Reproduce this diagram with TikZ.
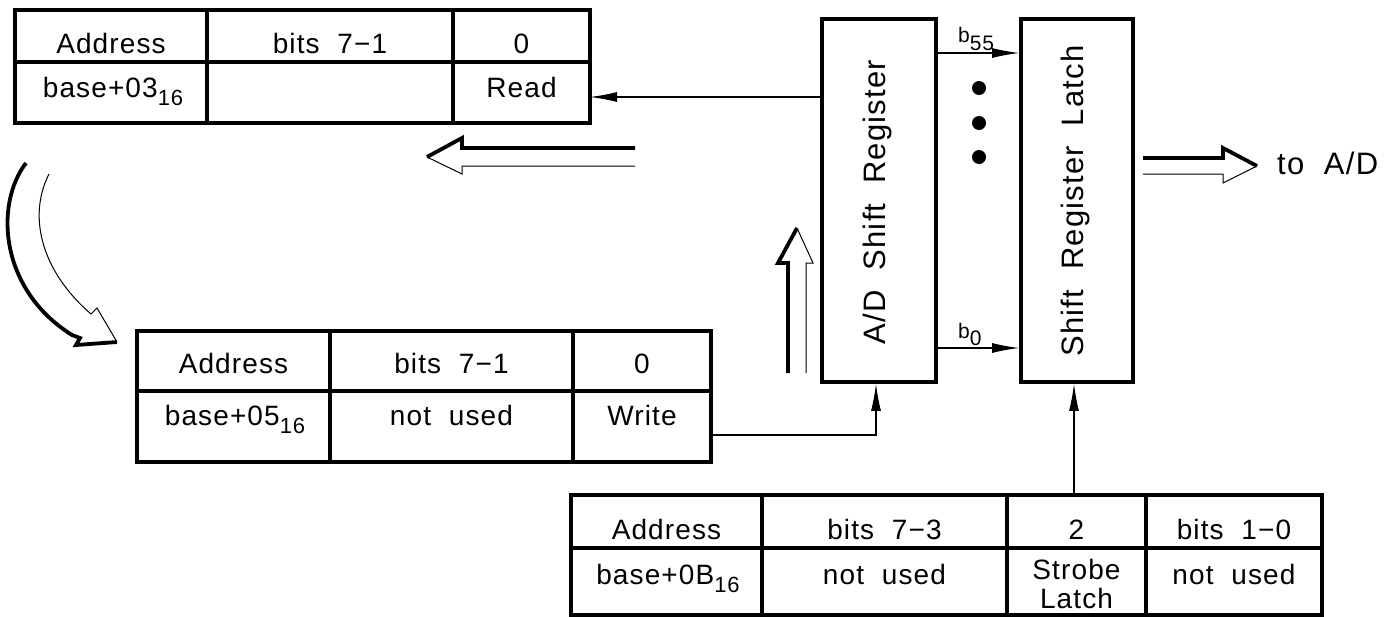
\documentclass[tikz,border=0pt]{standalone}
\usepackage{fontspec}
\setmainfont{Liberation Sans}[LetterSpace=4]
\usetikzlibrary{arrows.meta}
\newcommand\subsc[1]{\raisebox{-8pt}{\fontsize{22}{22}\selectfont #1}}
\newcommand\bsub[2]{\fontsize{21}{21}\selectfont b\raisebox{-#2}{\fontsize{21}{21}\selectfont #1}}
\begin{document}
\begin{tikzpicture}[x=1pt,y=-1pt,
  tbl/.style={line width=3.8pt},
  txt/.style={font=\fontsize{28}{30}\selectfont, inner sep=0pt, anchor=base, align=center},
  regbox/.style={draw, line width=3.8pt, inner sep=0pt, minimum height=363pt},
  rlabel/.style={font=\fontsize{31}{32}\selectfont, inner sep=0pt, rotate=90, anchor=base},
  conn/.style={line width=1.1pt, -{Latex[length=27pt,width=10pt]}},
  hthick/.style={line width=3.8pt, line join=miter, line cap=butt},
  hthin/.style={line width=1pt, line join=miter}]
\useasboundingbox (0,0) rectangle (1391,616);

% ---- table 1 (Read) ----
\draw[tbl] (15,10) rectangle (590,123);
\draw[tbl] (15,62) -- (590,62) (207,10) -- (207,123) (453,10) -- (453,123);
\node[txt] (t1a) at (111,53) {Address};
\node[txt] (t1b) at (330,53) {bits\ \ 7−1};
\node[txt] (t1c) at (521.5,53) {0};
\node[txt] (t1d) at (113,97) {base+03\subsc{16}};
\node[txt] (t1e) at (521.5,97) {Read};
\coordinate (t1r) at (590,97);

% ---- table 2 (Write) ----
\draw[tbl] (137,331) rectangle (711,462);
\draw[tbl] (137,391) -- (711,391) (330,331) -- (330,462) (573,331) -- (573,462);
\node[txt] (t2a) at (233.5,373) {Address};
\node[txt] (t2b) at (451.5,373) {bits\ \ 7−1};
\node[txt] (t2c) at (642,373) {0};
\node[txt] (t2d) at (235,425) {base+05\subsc{16}};
\node[txt] (t2e) at (451.5,425) {not\ \ used};
\node[txt] (t2f) at (642,425) {Write};
\coordinate (t2w) at (711,435);

% ---- table 3 (Strobe) ----
\draw[tbl] (571,495) rectangle (1322,615);
\draw[tbl] (571,548) -- (1322,548) (762,495) -- (762,615) (1007,495) -- (1007,615) (1146,495) -- (1146,615);
\node[txt] (t3a) at (666.5,539) {Address};
\node[txt] (t3b) at (884.5,539) {bits\ \ 7−3};
\node[txt] (t3c) at (1076.5,539) {2};
\node[txt] (t3d) at (1234,539) {bits\ \ 1−0};
\node[txt] (t3e) at (668,584) {base+0B\subsc{16}};
\node[txt] (t3f) at (884.5,584) {not\ \ used};
\node[txt] (t3g) at (1076.5,579) {Strobe};
\node[txt] (t3h) at (1076.5,608) {Latch};
\node[txt] (t3i) at (1234,584) {not\ \ used};
\coordinate (t3s) at (1074,495);

% ---- registers ----
\node[regbox, minimum width=114pt] (sr) at (879,200.5) {};
\node[regbox, minimum width=112pt] (latch) at (1077,200.5) {};
\node[rlabel] (srl) at (885,202) {A/D\ \ Shift\ \ Register};
\node[rlabel] (latchl) at (1083,201) {Shift\ \ Register\ \ Latch};

% ---- connectors ----
\draw[conn] (sr.west |- t1r) -- (t1r);
\draw[conn] (t2w) -| ([xshift=-3pt]sr.south);
\draw[conn] (t3s) -- (t3s |- latch.south);
\coordinate (b55y) at (980,53);
\coordinate (b0y) at (980,348);
\draw[conn] (sr.east |- b55y) -- (latch.west |- b55y);
\draw[conn] (sr.east |- b0y) -- (latch.west |- b0y);
\node[anchor=base west, inner sep=0pt] (lb55) at (958,42) {\bsub{55}{8pt}};
\node[anchor=base west, inner sep=0pt] (lb0) at (958,338) {\bsub{0}{7pt}};
\fill (979,88) circle (7);
\fill (979,123) circle (7);
\fill (979,157) circle (7);

% ---- hollow arrows ----
% left
\draw[hthick] (635,148) -- (462,148) -- (462,138) -- (427,157);
\draw[hthin] (427,157) -- (462,174) -- (462,166) -- (635,166);
% up
\draw[hthick] (788,373) -- (788,263) -- (778,263) -- (797,228);
\draw[hthin] (797,228) -- (813,263) -- (806,263) -- (806,373);
% right
\draw[hthick] (1143,158) -- (1223,158) -- (1223,148) -- (1257,166);
\draw[hthin] (1257,166) -- (1223,183) -- (1223,174) -- (1143,174);
\node[anchor=base west, inner sep=0pt, font=\fontsize{31}{32}\selectfont] (toad) at (1277,174) {to\ \ A/D};
% curved
\draw[hthick] (26,163) .. controls (-6,205) and (0,290) .. (72,335) -- (80,338) -- (76,345) -- (117,342);
\draw[hthin] (117,342) -- (97,308) -- (91,314) .. controls (40,270) and (28,215) .. (49,174);
\end{tikzpicture}
\end{document}
